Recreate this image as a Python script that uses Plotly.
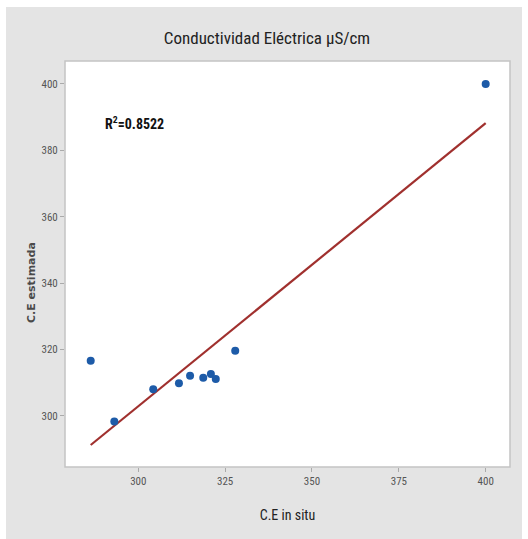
import numpy as np
import plotly.graph_objects as go

# Data
ce_in_situ = [286.3, 293.1, 304.3, 311.7, 314.9, 318.7, 320.9, 322.3, 327.9, 400.0]
ce_estimada = [316.6, 298.3, 308.0, 309.8, 312.1, 311.5, 312.6, 311.1, 319.6, 400.0]
x_ticks = [300, 325, 350, 375, 400]
y_ticks = [300, 320, 340, 360, 380, 400]
r2_label = "<b>R<sup>2</sup>=0.8522</b>"
title_text = "Conductividad Eléctrica µS/cm"
x_title = "C.E in situ"
y_title = "<b>C.E estimada</b>"

# regression line
slope, intercept = np.polyfit(ce_in_situ, ce_estimada, 1)
line_x = [min(ce_in_situ), max(ce_in_situ)]
line_y = [slope * v + intercept for v in line_x]

W, H = 528, 539
L, R, T, B = 65, 510, 61, 467  # plot area in pixels
pw, ph = R - L, B - T

def px(x):
    return (x - L) / pw

def py(y):
    return (B - y) / ph

narrow = "Liberation Sans Narrow, Arial Narrow, Roboto Condensed, Liberation Sans, Arial"

fig = go.Figure()
fig.add_trace(go.Scatter(x=line_x, y=line_y, mode="lines",
                         line=dict(color="#A0302E", width=2.2), showlegend=False))
fig.add_trace(go.Scatter(x=ce_in_situ, y=ce_estimada, mode="markers",
                         marker=dict(color="#1D5BA8", size=8), showlegend=False))

fig.update_layout(
    width=W, height=H,
    margin=dict(l=L, r=W - R, t=T, b=H - B),
    paper_bgcolor="white",
    plot_bgcolor="rgba(0,0,0,0)",
    title=dict(text=title_text, x=(267) / W, xanchor="center", y=1 - 38 / H, yanchor="middle",
               font=dict(family=narrow, size=17, color="#222222")),
    shapes=[
        dict(type="rect", xref="paper", yref="paper", layer="below",
             x0=px(6), x1=px(522), y0=py(539), y1=py(7),
             fillcolor="#E4E4E4", line=dict(width=0)),
        dict(type="rect", xref="paper", yref="paper", layer="below",
             x0=0, x1=1, y0=0, y1=1,
             fillcolor="white", line=dict(color="#C4C4C4", width=1.5)),
    ],
    annotations=[
        dict(text=r2_label, xref="paper", yref="paper", x=px(103), y=py(123),
             xanchor="left", yanchor="middle", showarrow=False,
             font=dict(family=narrow, size=14, color="#111111")),
        dict(text=y_title, xref="paper", yref="paper", x=px(31), y=py(283),
             xanchor="center", yanchor="middle", showarrow=False, textangle=-90,
             font=dict(family="DejaVu Sans, Verdana, Arial", size=11, color="#4A4A4A")),
    ],
    xaxis=dict(range=[278.9, 407], tickvals=x_ticks, showgrid=False, zeroline=False,
               ticks="outside", ticklen=4, tickcolor="#AAAAAA", showline=False,
               tickfont=dict(family=narrow, size=11, color="#555555"),
               title=dict(text=x_title, standoff=22,
                          font=dict(family=narrow, size=14, color="#222222"))),
    yaxis=dict(range=[284.6, 406.9], tickvals=y_ticks, showgrid=False, zeroline=False,
               ticks="outside", ticklen=4, tickcolor="#AAAAAA", showline=False,
               tickfont=dict(family=narrow, size=11, color="#555555")),
)

fig.write_html("out.html")
